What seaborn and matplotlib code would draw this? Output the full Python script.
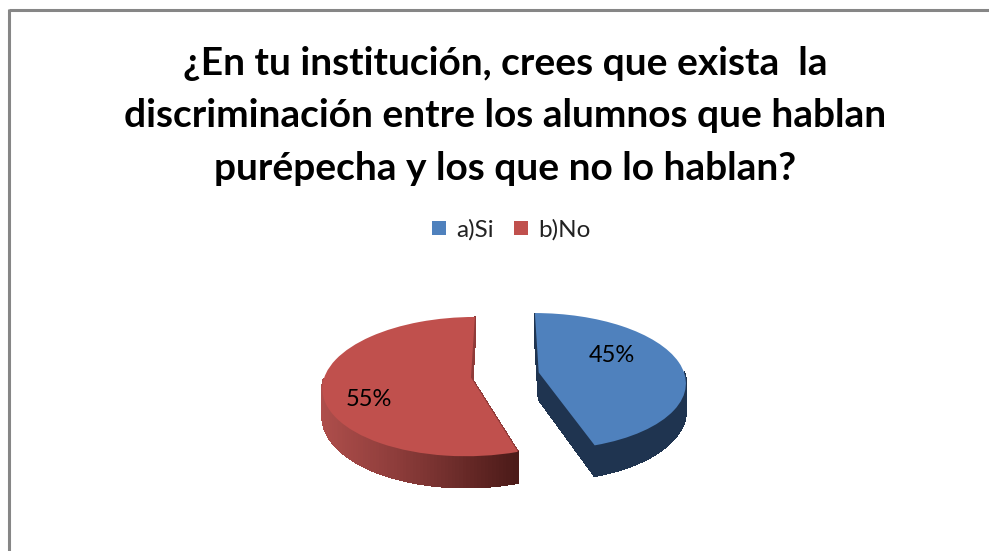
import numpy as np
import matplotlib
matplotlib.use("Agg")
import matplotlib.pyplot as plt
from matplotlib.transforms import Transform
from matplotlib.lines import Line2D
import seaborn as sns

# Data
categories = ["a)Si", "b)No"]
values = [45, 55]
pct_labels = ["45%", "55%"]
colors = ["#4f81bd", "#c0504d"]
title_lines = [
    "¿En tu institución, crees que exista  la",
    "discriminación entre los alumnos que hablan",
    "purépecha y los que no lo hablan?",
]

sns.set_theme(style="white")
plt.rcParams["font.family"] = ["Lato", "DejaVu Sans"]

CX, CY, A, B, K, DEPTH = 505.0, 375.0, 146.0, 67.8, 0.13, 27.0


def project(u, v):
    s = 1.0 / (1.0 + K * v)
    return CX + A * u * s, CY - B * v * s, s


class Persp(Transform):
    input_dims = output_dims = 2
    is_affine = False
    has_inverse = False

    def transform_non_affine(self, values):
        xy = np.asarray(values, dtype=float)
        x, y, _ = project(xy[:, 0], xy[:, 1])
        return np.column_stack([x, y])


fig = plt.figure(figsize=(9.89, 5.51), dpi=100, facecolor="white")
ax = fig.add_axes([0, 0, 1, 1])
wedges, _ = ax.pie(values, colors=colors, startangle=90, counterclock=False,
                   explode=[0.235, 0.235], radius=1.0,
                   wedgeprops={"linewidth": 0})
ax.set_aspect("auto")
ax.set_xlim(0, 989)
ax.set_ylim(551, 0)
ax.set_axis_off()
persp = Persp() + ax.transData
for w in wedges:
    w.set_transform(persp)
    w.set_clip_on(False)
    w.set_zorder(3)


def quad(p, q, color):
    x0, y0, s0 = p
    x1, y1, s1 = q
    ax.fill([x0, x1, x1, x0],
            [y0, y1, y1 + DEPTH * s1, y0 + DEPTH * s0],
            facecolor=color, edgecolor=color, linewidth=0.8,
            antialiased=False, zorder=2)


def lerp_color(x):
    stops_x = [323, 400, 517]
    stops = np.array([[0xae, 0x4e, 0x4b], [0x8c, 0x3c, 0x3a], [0x4c, 0x1b, 0x19]], float)
    c = [np.interp(x, stops_x, stops[:, i]) for i in range(3)]
    return tuple(np.array(c) / 255)


blue_wall, red_cut = "#1f3450", "#8f3b39"
for idx, w in enumerate(wedges):
    cu, cv = w.center
    t = np.radians(np.linspace(w.theta1, w.theta2, 160))
    arc = [project(cu + np.cos(a), cv + np.sin(a)) for a in t]
    apex = project(cu, cv)
    cut = blue_wall if idx == 0 else red_cut
    quad(apex, arc[0], cut)
    quad(apex, arc[-1], cut)
    # only the front part of the rim can be seen
    for a, p, q in zip(t[:-1], arc[:-1], arc[1:]):
        if np.sin(a) > 0.0:
            continue
        col = blue_wall if idx == 0 else lerp_color((p[0] + q[0]) / 2)
        quad(p, q, col)

# Percent labels
ax.text(612, 355, pct_labels[0], ha="center", va="center", fontsize=17, color="black", zorder=5)
ax.text(369, 400, pct_labels[1], ha="center", va="center", fontsize=17, color="black", zorder=5)

# Title
for line, y in zip(title_lines, [63.5, 115.5, 168.5]):
    ax.text(505, y, line, ha="center", va="center", fontsize=28,
            fontweight="bold", color="black", zorder=5)

# Legend
handles = [Line2D([], [], linestyle="none", marker="s", markersize=10,
                  markerfacecolor=c, markeredgewidth=0) for c in colors]
ax.legend(handles, categories, loc="center", bbox_to_anchor=(510.5, 230),
          bbox_transform=ax.transData, ncol=2, frameon=False, fontsize=17.5,
          handlelength=0.7, handletextpad=0.35, columnspacing=0.75, labelcolor="#222222")

# Chart frame (top and left only visible in reference)
ax.add_line(Line2D([8.5, 989], [9.5, 9.5], color="#868686", lw=2.2, solid_capstyle="butt"))
ax.add_line(Line2D([8.5, 8.5], [8.5, 551], color="#868686", lw=2.2, solid_capstyle="butt"))

fig.savefig("out.png", dpi=100, facecolor="white")
